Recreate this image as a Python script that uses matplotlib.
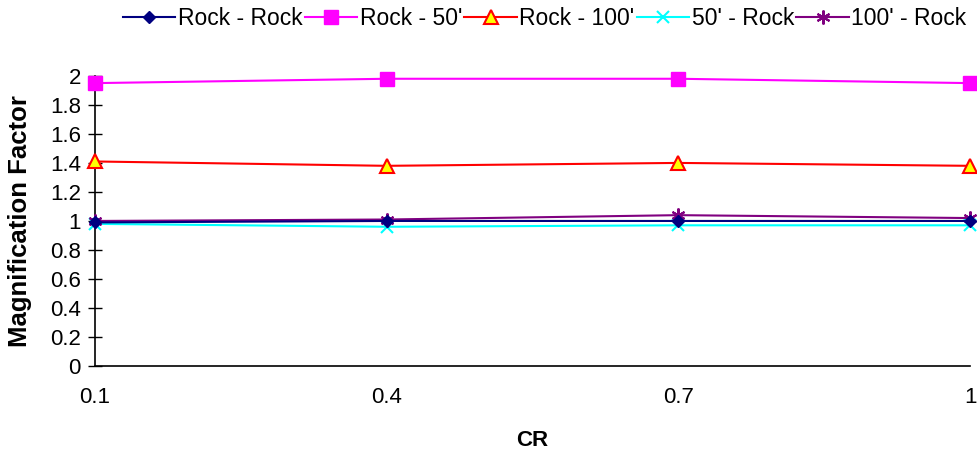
import matplotlib.pyplot as plt
import numpy as np

plt.rcParams['font.family'] = ['Liberation Sans', 'DejaVu Sans']

# data
cr = ['0.1', '0.4', '0.7', '1']
rock_rock = [0.99, 1.00, 1.00, 1.00]
rock_50 = [1.95, 1.98, 1.98, 1.95]
rock_100 = [1.41, 1.38, 1.40, 1.38]
ft50_rock = [0.98, 0.96, 0.97, 0.97]
ft100_rock = [1.00, 1.01, 1.04, 1.02]

x = np.arange(len(cr))

fig = plt.figure(figsize=(9.78, 4.57), dpi=100)
ax = fig.add_axes([0.097, 0.199, 0.895, 0.635])

ax.plot(x, rock_rock, color='#000080', marker='D', markersize=6, lw=1.5,
        label='Rock - Rock', clip_on=False, zorder=5)
ax.plot(x, rock_50, color='#FF00FF', marker='s', markersize=10, lw=1.5,
        label="Rock - 50'", clip_on=False, zorder=4)
ax.plot(x, rock_100, color='#FF0000', marker='^', markersize=10, lw=1.5,
        markerfacecolor='#FFFF00', markeredgecolor='#FF0000', markeredgewidth=1.5,
        label="Rock - 100'", clip_on=False, zorder=4)
ax.plot(x, ft50_rock, color='#00FFFF', marker='x', markersize=9, lw=1.5,
        markeredgewidth=1.5, label="50' - Rock", clip_on=False, zorder=3)
ax.plot(x, ft100_rock, color='#800080', marker=(6, 2, 0), markersize=10, lw=1.5,
        markeredgewidth=1.5, label="100' - Rock", clip_on=False, zorder=4)

ax.set_xlim(0, 3)
ax.set_ylim(0, 2)
ax.set_xticks(x)
ax.set_xticklabels(cr)
ax.set_yticks(np.arange(0, 2.01, 0.2))
ax.set_yticklabels(['0', '0.2', '0.4', '0.6', '0.8', '1', '1.2', '1.4', '1.6', '1.8', '2'])

for s in ['top', 'right']:
    ax.spines[s].set_visible(False)
ax.spines['left'].set_linewidth(1.2)
ax.spines['bottom'].set_linewidth(1.2)
ax.tick_params(axis='y', direction='inout', length=10, width=1, labelsize=16, pad=5)
ax.tick_params(axis='x', length=0, labelsize=16, pad=15)

ax.set_ylabel('Magnification Factor', fontsize=18.5, fontweight='bold', va='center')
ax.yaxis.set_label_coords(-0.085, 0.5)
ax.set_xlabel('CR', fontsize=16, fontweight='bold', va='center')
ax.xaxis.set_label_coords(0.5, -0.258)

fig.legend(loc='center right', bbox_to_anchor=(1.0, 0.96), ncol=5, frameon=False,
           fontsize=16.5, handlelength=2.3, handletextpad=0.1, columnspacing=0.1,
           borderaxespad=0.1)

fig.savefig('out.png', dpi=100)
